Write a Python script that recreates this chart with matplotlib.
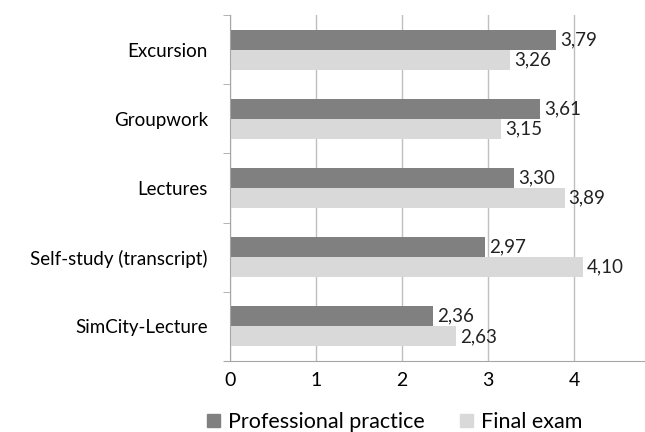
import numpy as np
import matplotlib.pyplot as plt
from matplotlib.patches import Patch

plt.rcParams['font.family'] = ['Lato', 'DejaVu Sans']

categories = ["Excursion", "Groupwork", "Lectures", "Self-study (transcript)", "SimCity-Lecture"]
professional = [3.79, 3.61, 3.30, 2.97, 2.36]
final_exam = [3.26, 3.15, 3.89, 4.10, 2.63]
series_names = ["Professional practice", "Final exam"]
colors = ["#808080", "#d9d9d9"]

fig = plt.figure(figsize=(6.45, 4.32), dpi=100)
ax = fig.add_axes([230 / 645, 1 - 361 / 432, 1 - 230 / 645, (361 - 15) / 432])

y = np.arange(len(categories))
h = 0.29
bars_p = ax.barh(y - h / 2, professional, height=h, color=colors[0])
bars_f = ax.barh(y + h / 2, final_exam, height=h, color=colors[1])

for bars, vals in ((bars_p, professional), (bars_f, final_exam)):
    for b, v in zip(bars, vals):
        ax.annotate(f"{v:.2f}".replace('.', ','),
                    (v, b.get_y() + b.get_height() / 2),
                    xytext=(3, 0), textcoords='offset points',
                    va='center', ha='left', fontsize=13.5, color='#222222')

ax.set_xlim(0, (645 - 230) / 86)
ax.set_ylim(len(categories) - 0.5, -0.5)
ax.set_xticks([0, 1, 2, 3, 4])
ax.set_xticklabels(["0", "1", "2", "3", "4"])
ax.set_yticks(y)
ax.set_yticklabels(categories)
ax.set_yticks(np.arange(len(categories) + 1) - 0.5, minor=True)
ax.tick_params(axis='y', which='major', length=0, pad=16, labelsize=13.5)
ax.tick_params(axis='y', which='minor', length=5, color='#a6a6a6', direction='out')
ax.tick_params(axis='x', length=0, pad=8, labelsize=14)

ax.grid(axis='x', color='#bfbfbf', lw=1)
ax.set_axisbelow(True)
for s in ('top', 'right'):
    ax.spines[s].set_visible(False)
ax.spines['left'].set_color('#a6a6a6')
ax.spines['bottom'].set_color('#a6a6a6')
ax.spines['bottom'].set_bounds(-0.07, ax.get_xlim()[1])

handles = [Patch(color=c, label=n) for c, n in zip(colors, series_names)]
fig.legend(handles=handles, loc='center', bbox_to_anchor=(0.612, 1 - 422 / 432),
           ncol=2, frameon=False, fontsize=15.5, handlelength=0.6, handleheight=0.6,
           handletextpad=0.4, columnspacing=1.6)

fig.savefig("out.png", dpi=100)
